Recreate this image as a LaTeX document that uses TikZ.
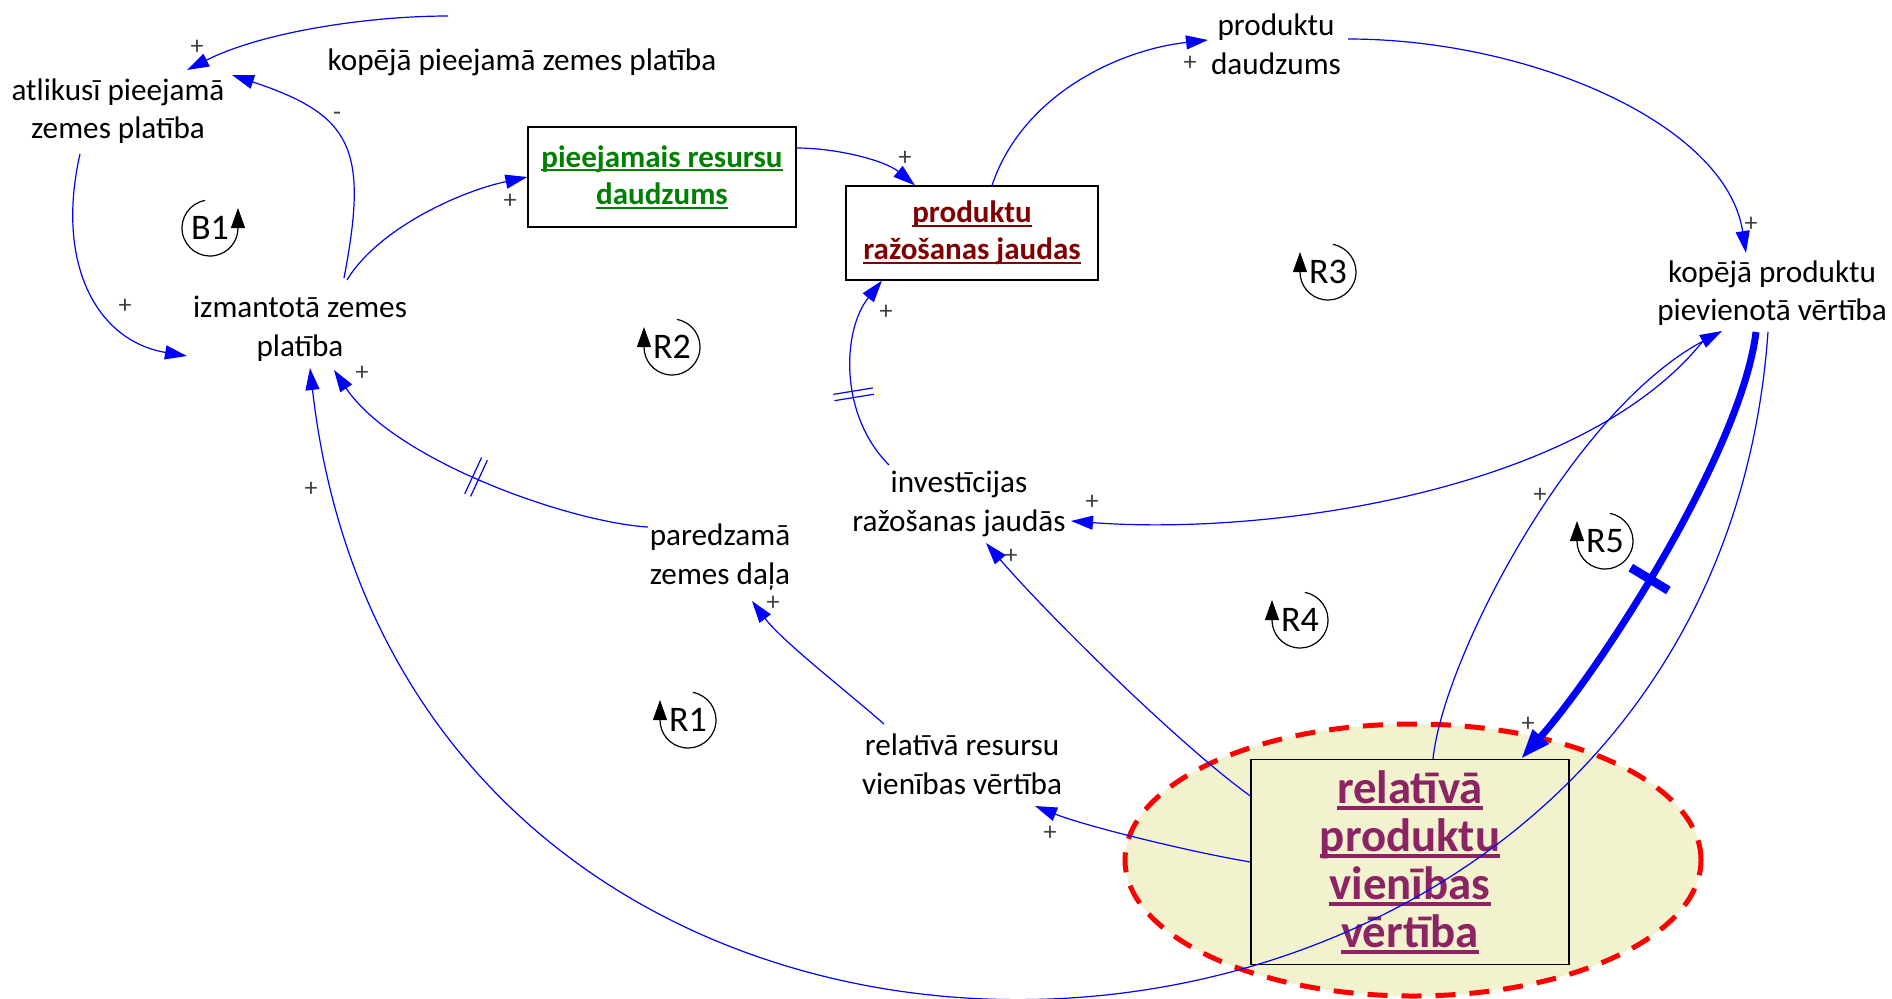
\documentclass[tikz,border=0pt]{standalone}
\usepackage{fontspec}
\setmainfont{Carlito}
\usetikzlibrary{arrows.meta, shapes.geometric, decorations.markings}

\definecolor{linkblue}{RGB}{0,0,255}
\definecolor{resgreen}{RGB}{0,128,0}
\definecolor{capred}{RGB}{128,0,0}
\definecolor{valpurple}{RGB}{140,35,100}
\definecolor{keyfill}{RGB}{242,242,206}
\definecolor{keyred}{RGB}{255,0,0}

\newcommand{\ulined}[1]{\setbox0\hbox{#1}\rlap{\rule[-0.14em]{\wd0}{0.07em}}\box0}

\begin{document}
\begin{tikzpicture}[x=0.5pt, y=-0.5pt,
    txt/.style={align=center, inner sep=1pt, font=\fontsize{15.6}{19.3}\selectfont},
    stockbox/.style={draw, line width=0.6pt, align=center, inner sep=0pt, font=\bfseries\fontsize{15.5}{18.7}\selectfont},
    link/.style={draw=linkblue, line width=0.6pt, -{Triangle[length=11pt,width=7pt]}},
    sign/.style={inner sep=0pt, text=black!75, font=\fontsize{13}{13}\selectfont},
    loopname/.style={inner sep=0pt, font=\fontsize{18}{18}\selectfont},
    looparc/.style={line width=0.6pt, -{Triangle[length=10pt,width=7pt]}},
    twobars/.style={postaction={decorate, decoration={markings,
        mark=at position #1 with {\draw[-, linkblue, line width=0.6pt]
            (-1.6pt,-10pt) -- (-1.6pt,10pt) (1.6pt,-10pt) -- (1.6pt,10pt);}}}},
    onebar/.style={postaction={decorate, decoration={markings,
        mark=at position #1 with {\fill[linkblue] (-2.2pt,-11pt) rectangle (2.2pt,11pt);}}}},
]
    \useasboundingbox (0,0) rectangle (1892,998);
    % Key variable
    \node[ellipse, draw=keyred, fill=keyfill, line width=2.5pt, dash pattern=on 10pt off 7pt,
        minimum width=288pt, minimum height=136pt, inner sep=0pt] (zone) at (1413,860) {};
    \node[draw, line width=0.6pt, align=center, inner sep=0pt, text=valpurple,
        font=\bfseries\fontsize{23.4}{24}\selectfont, minimum width=159pt, minimum height=102.5pt]
        (rpv) at (1410,862) {\ulined{relatīvā}\\\ulined{produktu}\\\ulined{vienības}\\\ulined{vērtība}};
    % Variables
    \node[txt] (atl) at (118,111) {atlikusī pieejamā\\zemes platība};
    \node[txt] (kpz) at (522,62) {kopējā pieejamā zemes platība};
    \node[txt] (izm) at (300,329) {izmantotā zemes\\platība};
    \node[stockbox, text=resgreen, minimum width=134pt, minimum height=50pt]
        (pie) at (662,177) {\ulined{pieejamais resursu}\\\ulined{daudzums}};
    \node[stockbox, text=capred, minimum width=126pt, minimum height=47pt]
        (prj) at (972,233) {\ulined{produktu}\\\ulined{ražošanas jaudas}};
    \node[txt] (pd) at (1276,44) {produktu\\daudzums};
    \node[txt] (kpv) at (1772,293) {kopējā produktu\\pievienotā vērtība};
    \node[txt] (inv) at (959,504) {investīcijas\\ražošanas jaudās};
    \node[txt] (pzd) at (720,557) {paredzamā\\zemes daļa};
    \node[txt] (rrv) at (962,764) {relatīvā resursu\\vienības vērtība};
    % Land links
    \draw[link] ([shift={(-74,-46)}]kpz.center) .. controls +(-80,0) and +(75,-38) .. ([shift={(69,-41)}]atl.center);
    \draw[link] ([shift={(44,-51)}]izm.center) .. controls +(25,-130) and +(120,40) .. ([shift={(114,-36)}]atl.center);
    \draw[link] ([shift={(-38,43)}]atl.center) .. controls +(-25,110) and +(-90,-15) .. ([shift={(-113,27)}]izm.center);
    \draw[link] ([shift={(47,-49)}]izm.center) .. controls +(30,-50) and +(-70,15) .. (pie.west);
    \draw[link, twobars=0.5] ([shift={(-72,-30)}]pzd.center) .. controls +(-80,-5) and +(60,90) .. ([shift={(34,41)}]izm.center);
    \draw[link] ([shift={(-78,-40)}]rrv.center) .. controls +(-40,-35) and +(30,40) .. ([shift={(32,44)}]pzd.center);
    % Production links
    \draw[link] ([shift={(0,-29)}]pie.east) .. controls +(40,0) and +(-30,-25) .. ([shift={(-57,0)}]prj.north);
    \draw[link] ([shift={(20,0)}]prj.north) .. controls +(30,-90) and +(-90,10) .. ([shift={(-68,-4)}]pd.center);
    \draw[link] ([shift={(72,-5)}]pd.center) .. controls +(180,0) and +(-20,-130) .. ([shift={(-26,-40)}]kpv.center);
    \draw[link, twobars=0.4] ([shift={(-70,-39)}]inv.center) .. controls +(-50,-50) and +(-40,50) .. ([shift={(-90,0)}]prj.south);
    \draw[link] ([shift={(-69,48)}]kpv.center) .. controls +(-120,150) and +(200,15) .. ([shift={(112,17)}]inv.center);
    % Value links
    \draw[link, line width=3.5pt, -{Triangle[length=15pt,width=10pt]}, onebar=0.55]
        ([shift={(-16,39)}]kpv.center) .. controls +(-15,120) and +(80,-90) .. ([shift={(111,0)}]rpv.north);
    \draw[link] ([shift={(23,0)}]rpv.north) .. controls +(10,-100) and +(-150,80) .. ([shift={(-50,38)}]kpv.center);
    \draw[link] ([shift={(-4,39)}]kpv.center) .. controls +(-60,848) and +(100,875) .. ([shift={(10,39)}]izm.center);
    \draw[link] ([shift={(0,-66)}]rpv.west) .. controls +(-70,-50) and +(60,70) .. ([shift={(27,39)}]inv.center);
    \draw[link] (rpv.west) .. controls +(-60,-10) and +(50,20) .. ([shift={(73,42)}]rrv.center);
    % Polarities
    \foreach \i/\x/\y/\s in {1/197/47/+, 2/337/116/-, 3/125/306/+, 4/510/201/+, 5/905/158/+,
        6/1190/63/+, 7/1751/224/+, 8/1528/724/+, 9/1540/495/+, 10/311/489/+, 11/886/312/+,
        12/1092/502/+, 13/1011/556/+, 14/1050/833/+, 15/773/603/+, 16/362/373/+}
        \node[sign] (sg\i) at (\x,\y) {\s};
    % Loops
    \foreach \nm/\x/\y in {R1/688/720, R2/672/347, R3/1328/272, R4/1300/620, R5/1605/541} {
        \node[loopname] (l\nm) at (\x,\y) {\nm};
        \draw[looparc] ([shift={(80:14pt)}]l\nm.center) arc[start angle=80, end angle=-180, radius=14pt] -- ++(0pt,10pt);
    }
    \node[loopname] (lB1) at (210,228) {B1};
    \draw[looparc] ([shift={(100:14pt)}]lB1.center) arc[start angle=100, end angle=360, radius=14pt] -- ++(0pt,10pt);
\end{tikzpicture}
\end{document}
